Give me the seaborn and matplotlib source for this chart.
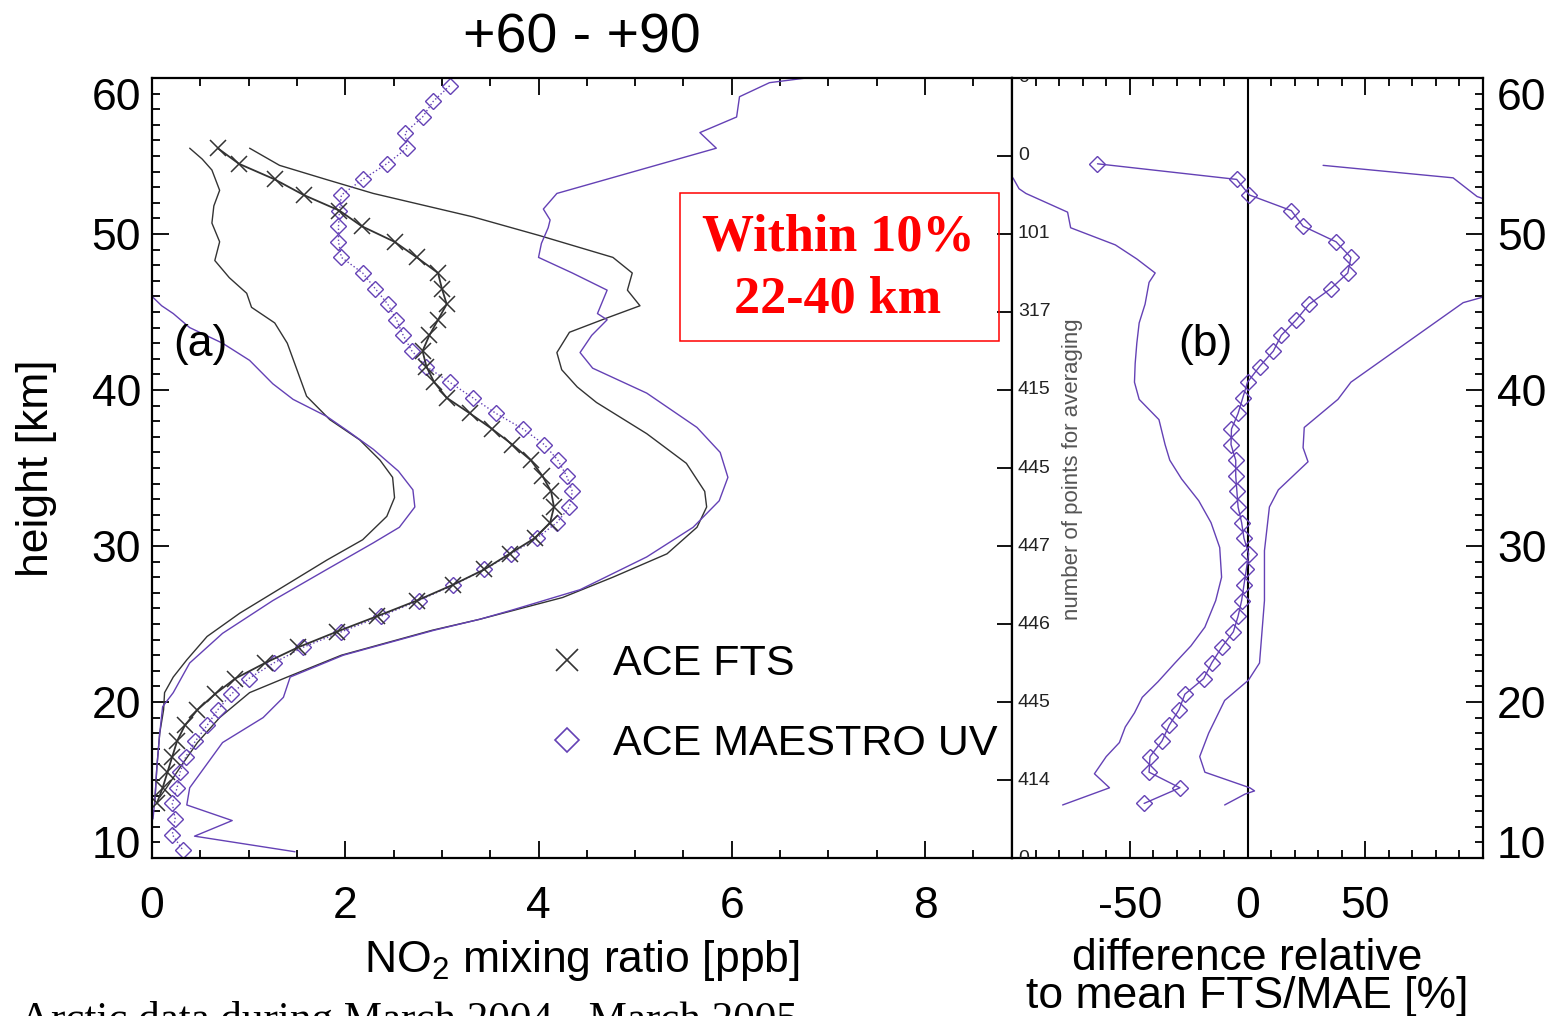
"""
NO2 profiles, ACE FTS vs ACE MAESTRO UV, latitude band +60 - +90.
(a) mean profiles with +/- std, (b) relative difference.
"""

import numpy as np
import matplotlib
matplotlib.use('Agg')
import matplotlib.pyplot as plt
import seaborn as sns
from matplotlib.lines import Line2D
from matplotlib.patches import Rectangle
from matplotlib.ticker import MultipleLocator

sns.set_style('ticks')
plt.rcParams['font.family'] = ['Liberation Sans', 'DejaVu Sans']
plt.rcParams.update({
    'mathtext.fontset': 'custom',
    'mathtext.rm': 'Liberation Sans',
    'axes.unicode_minus': False,
    'text.color': 'black',
    'axes.labelcolor': 'black',
    'axes.edgecolor': 'black',
    'xtick.color': 'black',
    'ytick.color': 'black',
})

PURPLE = '#6441b5'
DARK = '#333333'

# ── (a) ACE FTS mean profile [ppb] ────────────────────────────────
fts_alt = [55.5, 54.5, 53.5, 52.5, 51.5, 50.5, 49.5, 48.5, 47.5, 46.5,
           45.5, 44.5, 43.5, 42.5, 41.5, 40.5, 39.5, 38.5, 37.5, 36.5,
           35.5, 34.5, 33.5, 32.5, 31.5, 30.5, 29.5, 28.5, 27.5, 26.5,
           25.5, 24.5, 23.5, 22.5, 21.5, 20.5, 19.5, 18.5, 17.5, 16.5,
           15.5, 14.5, 13.5]
fts_mean = [0.68, 0.90, 1.27, 1.57, 1.94, 2.17, 2.51, 2.74, 2.96, 3.00,
            3.05, 2.96, 2.87, 2.80, 2.84, 2.92, 3.05, 3.29, 3.52, 3.73,
            3.92, 4.04, 4.13, 4.16, 4.12, 3.96, 3.70, 3.44, 3.11, 2.74,
            2.33, 1.91, 1.51, 1.17, 0.86, 0.65, 0.47, 0.34, 0.26, 0.21,
            0.16, 0.11, 0.05]

# FTS mean - std
fts_lo_alt = [55.5, 54.8, 54.1, 52.8, 51.8, 50.7, 49.5, 48.3, 47.2, 46.2,
              45.3, 44.3, 43.0, 41.3, 39.6, 38.1, 36.8, 35.5, 34.4, 33.1,
              31.9, 30.4, 29.1, 27.4, 25.7, 24.2, 22.7, 21.6, 20.6, 19.5,
              18.0, 15.8, 13.7]
fts_lo = [0.39, 0.52, 0.62, 0.70, 0.64, 0.62, 0.70, 0.65, 0.80, 0.98,
          1.03, 1.27, 1.40, 1.50, 1.60, 1.84, 2.15, 2.36, 2.49, 2.51,
          2.43, 2.18, 1.81, 1.36, 0.91, 0.57, 0.36, 0.22, 0.13, 0.12,
          0.08, 0.05, 0.03]

# FTS mean + std
fts_hi_alt = [55.5, 54.4, 53.5, 52.6, 51.1, 49.9, 48.5, 47.5, 46.4, 45.4,
              44.6, 43.7, 42.4, 41.3, 40.2, 39.2, 37.2, 35.3, 33.5, 32.5,
              31.2, 29.5, 28.0, 26.7, 25.3, 24.6, 23.0, 21.6, 20.6, 19.0,
              17.4, 15.8, 14.5, 13.9]
fts_hi = [1.01, 1.32, 1.80, 2.29, 3.32, 4.01, 4.77, 4.97, 4.92, 5.05,
          4.70, 4.32, 4.19, 4.24, 4.40, 4.60, 5.12, 5.53, 5.72, 5.74,
          5.64, 5.33, 4.77, 4.25, 3.39, 2.90, 1.96, 1.40, 1.01, 0.70,
          0.47, 0.29, 0.15, 0.08]

# ── (a) ACE MAESTRO UV mean profile [ppb] ─────────────────────────
mae_alt = [59.5, 58.5, 57.5, 56.5, 55.5, 54.5, 53.5, 52.5, 51.5, 50.5,
           49.5, 48.5, 47.5, 46.5, 45.5, 44.5, 43.5, 42.5, 41.5, 40.5,
           39.5, 38.5, 37.5, 36.5, 35.5, 34.5, 33.5, 32.5, 31.5, 30.5,
           29.5, 28.5, 27.5, 26.5, 25.5, 24.5, 23.5, 22.5, 21.5, 20.5,
           19.5, 18.5, 17.5, 16.5, 15.5, 14.5, 13.5, 12.5, 11.5, 10.5]
mae_mean = [3.08, 2.91, 2.80, 2.62, 2.64, 2.43, 2.18, 1.96, 1.94, 1.93,
            1.93, 1.96, 2.18, 2.31, 2.44, 2.53, 2.60, 2.69, 2.84, 3.08,
            3.32, 3.56, 3.84, 4.06, 4.20, 4.29, 4.35, 4.32, 4.19, 3.98,
            3.72, 3.44, 3.12, 2.76, 2.37, 1.96, 1.56, 1.26, 1.00, 0.82,
            0.68, 0.57, 0.45, 0.35, 0.29, 0.26, 0.21, 0.24, 0.21, 0.32]

# MAESTRO mean - std
mae_lo_alt = [46.0, 45.4, 44.9, 44.0, 43.0, 41.9, 40.4, 39.4, 38.3, 37.4,
              36.2, 34.8, 33.6, 32.5, 31.2, 30.2, 28.5, 26.5, 24.4, 22.5,
              20.6, 19.7, 18.0, 15.8, 13.7, 12.5]
mae_lo = [0.00, 0.10, 0.22, 0.39, 0.73, 1.01, 1.25, 1.46, 1.81, 2.02,
          2.29, 2.55, 2.70, 2.72, 2.56, 2.29, 1.81, 1.25, 0.73, 0.39,
          0.22, 0.11, 0.08, 0.05, 0.03, 0.01]

# MAESTRO mean + std
mae_hi_alt = [60.0, 59.7, 58.8, 57.5, 56.5, 55.5, 52.6, 51.6, 50.9, 50.4,
              49.4, 48.5, 47.5, 46.4, 44.9, 44.5, 43.5, 42.4, 41.4, 39.8,
              37.6, 36.0, 34.4, 32.9, 31.2, 29.3, 27.2, 25.9, 25.3, 24.6,
              23.0, 21.6, 20.3, 19.0, 17.4, 14.5, 13.4, 12.4, 11.4, 10.4]
mae_hi = [6.77, 6.39, 6.08, 6.05, 5.67, 5.84, 4.19, 4.05, 4.12, 4.10,
          4.03, 4.00, 4.35, 4.71, 4.61, 4.71, 4.55, 4.43, 4.56, 5.12,
          5.64, 5.88, 5.96, 5.87, 5.60, 5.12, 4.43, 3.73, 3.39, 2.92,
          1.98, 1.43, 1.36, 1.15, 0.73, 0.39, 0.36, 0.83, 0.44, 1.48]

# ── (b) relative difference [%] ───────────────────────────────────
diff_alt = [54.5, 53.5, 52.5, 51.5, 50.5, 49.5, 48.5, 47.5, 46.5, 45.5,
            44.5, 43.5, 42.5, 41.5, 40.5, 39.5, 38.5, 37.5, 36.5, 35.5,
            34.5, 33.5, 32.5, 31.5, 30.5, 29.5, 28.5, 27.5, 26.5, 25.5,
            24.5, 23.5, 22.5, 21.5, 20.5, 19.5, 18.5, 17.5, 16.5, 15.5,
            14.5, 13.5]
diff_mean = [-63.7, -4.6, 0.8, 18.6, 23.6, 37.6, 43.9, 42.6, 35.4, 26.2,
             20.7, 14.3, 11.0, 5.1, 0.0, -2.0, -4.0, -6.8, -7.0, -5.0,
             -5.0, -4.5, -4.0, -2.5, -1.5, 0.5, -0.5, -1.5, -2.5, -4.0,
             -6.0, -11.0, -15.2, -18.6, -26.6, -29.1, -33.3, -36.3, -41.4,
             -41.8, -28.7, -43.9]

diff_lo_alt = [53.6, 52.9, 52.6, 51.4, 50.4, 49.3, 48.4, 47.5, 46.9, 45.5,
               44.3, 43.0, 41.7, 40.5, 39.4, 38.1, 36.5, 35.5, 34.3, 32.9,
               31.5, 29.9, 28.0, 26.5, 24.8, 23.6, 22.5, 21.3, 20.3, 19.3,
               18.4, 17.4, 16.5, 15.4, 14.5, 13.4]
diff_lo = [-99.6, -97.0, -94.1, -76.4, -75.1, -56.1, -47.0, -39.2, -41.8,
           -43.5, -46.0, -47.0, -47.7, -48.0, -46.0, -37.6, -35.0, -33.0,
           -28.0, -20.7, -15.5, -11.8, -11.0, -13.5, -18.1, -24.0, -30.8,
           -38.0, -44.7, -48.0, -51.9, -54.4, -60.0, -65.0, -58.6, -78.5]

diff_hi_alt = [54.4, 53.6, 52.4, 51.5, 50.5, 49.5, 48.5, 47.5, 46.5, 45.9,
               45.6, 40.5, 39.4, 37.6, 36.3, 35.4, 33.6, 32.5, 29.7, 26.5,
               22.5, 21.4, 20.1, 18.0, 16.5, 15.5, 14.5, 14.3, 14.1, 13.4]
diff_hi = [32.1, 87.3, 97.5, 115.0, 125.0, 130.0, 135.0, 125.0, 110.0,
           98.7, 91.6, 43.9, 38.4, 24.1, 23.6, 25.7, 13.1, 9.3, 7.2, 7.2,
           5.1, 0.4, -9.7, -16.5, -20.3, -18.1, 1.0, 3.0, -1.0, -9.7]

# number of points used for averaging
npts_alt = [60, 55, 50, 45, 40, 35, 30, 25, 20, 15, 10]
npts = ['0', '0', '101', '317', '415', '445', '447', '446', '445', '414', '0']

# ── Figure ────────────────────────────────────────────────────────
fig = plt.figure(figsize=(15.48, 10.16), dpi=100)
ax1 = fig.add_axes([0.09819, 0.15551, 0.55556, 0.76772])
ax2 = fig.add_axes([0.65375, 0.15551, 0.30426, 0.76772])

line_kw = dict(sort=False, estimator=None, legend=False)

# panel (a)
for xs, ys, col in [(fts_lo, fts_lo_alt, DARK), (fts_hi, fts_hi_alt, DARK),
                    (mae_lo, mae_lo_alt, PURPLE), (mae_hi, mae_hi_alt, PURPLE)]:
    sns.lineplot(x=xs, y=ys, color=col, lw=1.0, ax=ax1, **line_kw)

sns.lineplot(x=mae_mean, y=mae_alt, color=PURPLE, lw=1.0, ls=':',
             marker='D', ms=8.5, mfc='none', mec=PURPLE, mew=1.0,
             ax=ax1, **line_kw)
sns.lineplot(x=fts_mean, y=fts_alt, color=DARK, lw=1.3,
             marker='x', ms=12, mec=DARK, mew=1.1, ax=ax1, **line_kw)

ax1.set_xlim(0, 8.9)
ax1.set_ylim(10, 60)
ax1.xaxis.set_major_locator(MultipleLocator(2))
ax1.xaxis.set_minor_locator(MultipleLocator(0.5))
ax1.set_yticks([10, 20, 30, 40, 50, 60])
ax1.yaxis.set_minor_locator(MultipleLocator(1))

sec = ax1.secondary_yaxis('right')
sec.set_yticks(npts_alt)
sec.tick_params(direction='in', length=11, width=1.3, labelright=False)
sec.spines['right'].set_visible(False)

ax1.tick_params(which='both', direction='in', top=True, right=False,
                width=1.3, labelsize=32)
ax1.tick_params(which='major', length=12)
ax1.tick_params(which='minor', length=6)
ax1.tick_params(axis='x', pad=20)
ax1.tick_params(axis='y', pad=8)
ylab = ax1.get_yticklabels()
ylab[0].set_verticalalignment('baseline')
ylab[-1].set_verticalalignment('top')

ax1.set_xlabel('NO$_2$ mixing ratio [ppb]', fontsize=32, labelpad=8)
ax1.set_ylabel('height [km]', fontsize=32)
ax1.yaxis.set_label_coords(-0.110, 0.5)
ax1.set_title('+60 - +90', fontsize=40, pad=18)
ax1.text(0.0558, 0.6577, '(a)', transform=ax1.transAxes, fontsize=32,
         ha='center', va='center')

handles = [Line2D([], [], ls='none', marker='x', color=DARK, ms=16, mew=1.2),
           Line2D([], [], ls='none', marker='D', mfc='none', mec=PURPLE,
                  ms=12, mew=1.2)]
ax1.legend(handles, ['ACE FTS', 'ACE MAESTRO UV'], loc='upper left',
           bbox_to_anchor=(0.458, 0.274), frameon=False, fontsize=31,
           handlelength=1.0, handletextpad=0.55, borderpad=0,
           borderaxespad=0, labelspacing=0.92)

# annotation box
ax1.add_patch(Rectangle((0.614, 0.6628), 0.371, 0.1898, transform=ax1.transAxes,
                        fill=False, ec='red', lw=1.1, zorder=5))
ax1.text(0.7977, 0.7949, 'Within 10%', transform=ax1.transAxes, color='red',
         family=['Liberation Serif'], weight='bold', fontsize=37.5,
         ha='center', va='center')
ax1.text(0.7977, 0.7154, '22-40 km', transform=ax1.transAxes, color='red',
         family=['Liberation Serif'], weight='bold', fontsize=37.5,
         ha='center', va='center')

# panel (b)
ax2.axvline(0, color='black', lw=1.5)
sns.lineplot(x=diff_lo, y=diff_lo_alt, color=PURPLE, lw=1.0, ax=ax2, **line_kw)
sns.lineplot(x=diff_hi, y=diff_hi_alt, color=PURPLE, lw=1.0, ax=ax2, **line_kw)
sns.lineplot(x=diff_mean, y=diff_alt, color=PURPLE, lw=1.0,
             marker='D', ms=8.5, mfc='none', mec=PURPLE, mew=1.0,
             ax=ax2, **line_kw)

ax2.set_xlim(-100, 100)
ax2.set_ylim(10, 60)
ax2.set_xticks([-50, 0, 50])
ax2.xaxis.set_minor_locator(MultipleLocator(10))
ax2.set_yticks([10, 20, 30, 40, 50, 60])
ax2.yaxis.set_minor_locator(MultipleLocator(1))
ax2.tick_params(which='both', direction='in', top=True, left=False,
                right=True, labelleft=False, labelright=True,
                width=1.3, labelsize=32)
ax2.tick_params(which='major', length=12)
ax2.tick_params(which='minor', length=6)
ax2.tick_params(axis='x', pad=20)
ax2.tick_params(axis='y', pad=10)
ylab2 = ax2.get_yticklabels()
ylab2[0].set_verticalalignment('baseline')
ylab2[-1].set_verticalalignment('top')
ax2.set_ylabel('')
ax2.set_xlabel('difference relative\nto mean FTS/MAE [%]', fontsize=32,
               labelpad=8, linespacing=0.9)
ax2.text(0.41, 0.6577, '(b)', transform=ax2.transAxes, fontsize=32,
         ha='center', va='center')

ytrans = ax2.get_yaxis_transform()
for a, n in zip(npts_alt, npts):
    ax2.text(0.0127, a, n, transform=ytrans, fontsize=14, color='#222222',
             ha='left', va='center', clip_on=True)
ax2.text(0.1295, 34.9, 'number of points for averaging', transform=ytrans,
         fontsize=16, color='#555555', rotation=90, ha='center', va='center')

for ax in (ax1, ax2):
    for sp in ax.spines.values():
        sp.set_linewidth(1.6)
        sp.set_color('black')
        sp.set_visible(True)

fig.text(0.013, -0.0148, 'Arctic data during March 2004 - March 2005',
         family=['Liberation Serif'], fontsize=31, va='baseline', ha='left')

fig.savefig('out.png', dpi=100)
